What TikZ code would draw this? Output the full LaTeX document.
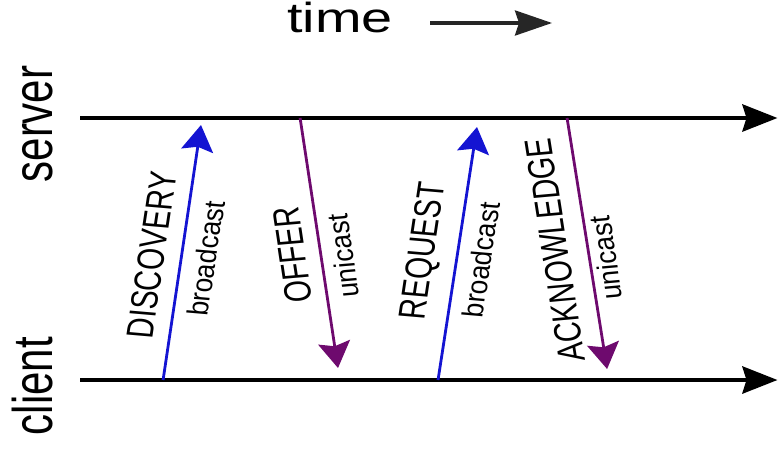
\documentclass[tikz,border=0pt]{standalone}
\usepackage{fontspec}
\setmainfont{Liberation Sans}
\usetikzlibrary{arrows.meta}

\definecolor{bcast}{RGB}{20,20,210}
\definecolor{ucast}{RGB}{110,10,110}

\tikzset{
  timeline/.style={-{Stealth[length=35pt,width=27pt,inset=4pt]}, line width=4.5pt},
  msg/.style={-{Stealth[length=26pt,width=32pt,inset=4pt]}, line width=2.8pt},
  big/.style={font=\fontsize{42}{50}\selectfont},
  msgname/.style={font=\fontsize{28.5}{34}\selectfont},
  mode/.style={font=\fontsize{22}{26}\selectfont, xscale=1.2},
}

\begin{document}
\begin{tikzpicture}[x=1pt, y=1pt, xscale=1.33, transform shape]
  \useasboundingbox (0,0) rectangle (585.7,456);

  % time
  \node[big, anchor=base] (time) at (255.6,423) {time};
  \coordinate (t0) at (323.3,433);
  \coordinate (t1) at (415,433);
  \draw[-{Stealth[length=37pt,width=25pt,inset=4pt]}, line width=3.5pt, black!85] (t0) -- (t1);

  % server and client lines
  \coordinate (s0) at (60.2,338);
  \coordinate (s1) at (584.5,338);
  \coordinate (c0) at (60.2,76);
  \coordinate (c1) at (584.5,76);
  \draw[timeline] (s0) -- (s1);
  \draw[timeline] (c0) -- (c1);
  \node[big, rotate=90, anchor=base] (server) at (39.8,332) {server};
  \node[big, rotate=90, anchor=base] (client) at (39.8,70) {client};

  % messages
  \coordinate (d0) at (122.6,76);  \coordinate (d1) at (151.1,331);
  \coordinate (o0) at (225.6,338); \coordinate (o1) at (254.1,88);
  \coordinate (r0) at (329.3,76);  \coordinate (r1) at (358.6,329);
  \coordinate (a0) at (426.3,338); \coordinate (a1) at (456.4,87);
  \draw[msg, bcast] (d0) -- (d1);
  \draw[msg, ucast] (o0) -- (o1);
  \draw[msg, bcast] (r0) -- (r1);
  \draw[msg, ucast] (a0) -- (a1);

  \node[msgname, rotate=83.5] (discovery) at (114.3,201) {DISCOVERY};
  \node[rotate=83.5, mode] (bc1) at (154.9,197.5) {broadcast};
  \node[msgname, rotate=96.5] (offer) at (219.9,201) {OFFER};
  \node[rotate=96.5, mode] (uc1) at (257.9,200) {unicast};
  \node[msgname, rotate=83.5] (request) at (319.5,205) {REQUEST};
  \node[rotate=83.5, mode] (bc2) at (361.7,196) {broadcast};
  \node[msgname, rotate=96.8] (ack) at (417.3,206) {ACKNOWLEDGE};
  \node[rotate=96.8, mode] (uc2) at (455.6,198) {unicast};
\end{tikzpicture}
\end{document}
